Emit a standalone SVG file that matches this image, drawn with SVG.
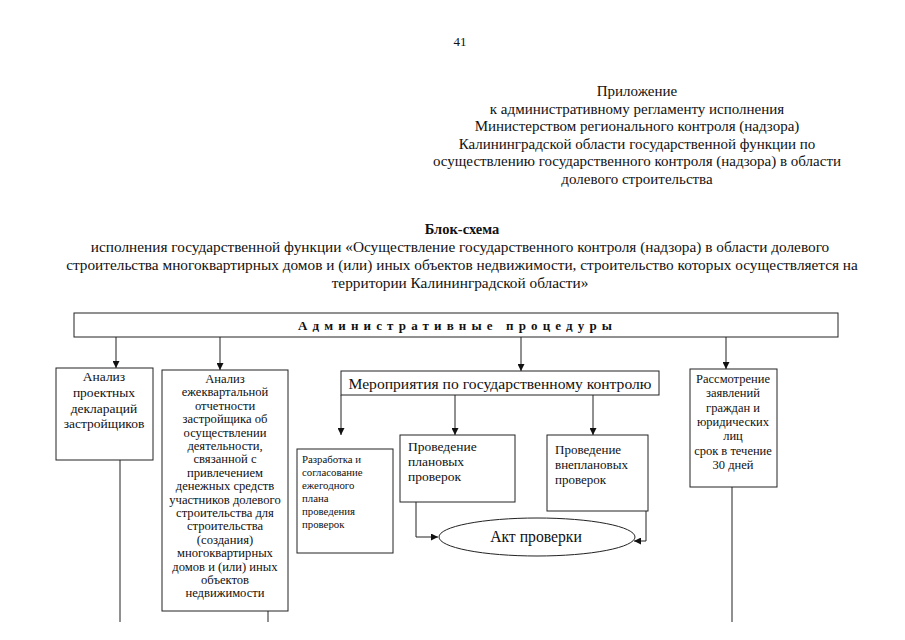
<svg xmlns="http://www.w3.org/2000/svg" width="905" height="640" viewBox="0 0 905 640">
<defs>
<marker id="ah" viewBox="0 0 8 8" refX="8" refY="4" markerWidth="7" markerHeight="7" orient="auto" markerUnits="userSpaceOnUse">
<path d="M0,0 L8,4 L0,8 z" fill="#111"/>
</marker>
<style>
text{font-family:"Liberation Serif","Times New Roman",serif;fill:#111}
.h{font-size:15px;text-anchor:middle}
.t{font-size:15.3px;text-anchor:middle}
.c{text-anchor:middle}
.box{fill:#fff;stroke:#222;stroke-width:1}
.ln{fill:none;stroke:#222;stroke-width:1}
.ar{fill:none;stroke:#222;stroke-width:1;marker-end:url(#ah)}
</style>
</defs>
<rect width="905" height="640" fill="#fff"/>
<text x="460" y="46" class="h" style="font-size:13px">41</text>
<g id="header">
<text class="h" x="637" y="96">Приложение</text>
<text class="h" x="637" y="113.5">к административному регламенту исполнения</text>
<text class="h" x="637" y="131">Министерством регионального контроля (надзора)</text>
<text class="h" x="637" y="148.5">Калининградской области государственной функции по</text>
<text class="h" x="637" y="166">осуществлению государственного контроля (надзора) в области</text>
<text class="h" x="637" y="183.5">долевого строительства</text>
</g>
<g id="title">
<text class="t" x="462" y="233.5" font-weight="bold" style="font-size:14.5px">Блок-схема</text>
<text class="t" x="460" y="252">исполнения государственной функции «Осуществление государственного контроля (надзора) в области долевого</text>
<text class="t" x="462" y="270">строительства многоквартирных домов и (или) иных объектов недвижимости, строительство которых осуществляется на</text>
<text class="t" x="460" y="288">территории Калининградской области»</text>
</g>
<g id="procedures">
<rect class="box" x="74" y="313" width="764" height="24"/>
<text x="298" y="330" font-size="13" font-weight="bold" textLength="314" lengthAdjust="spacing">Административные  процедуры</text>
</g>
<g id="connectors">
<path class="ar" d="M116 337 V368"/>
<path class="ar" d="M220 337 V370"/>
<path class="ar" d="M521 337 V371"/>
<path class="ar" d="M726 337 V369"/>
<path class="ar" d="M341 395 V435"/>
<path class="ar" d="M455 395 V435"/>
<path class="ar" d="M593 395 V435"/>
<path class="ar" d="M416 502 V537 H438"/>
<path class="ar" d="M646 511 V541 H634"/>
<path class="ln" d="M120 460 V622"/>
<path class="ln" d="M268 611 V622"/>
<path class="ln" d="M732 487 V622"/>
</g>
<g id="box1" font-size="13.5">
<rect class="box" x="56" y="368" width="97" height="92"/>
<text class="c" x="104" y="381">Анализ</text>
<text class="c" x="104" y="397">проектных</text>
<text class="c" x="104" y="413">деклараций</text>
<text class="c" x="104" y="428">застройщиков</text>
</g>
<g id="box2" font-size="12.6">
<rect class="box" x="162" y="370" width="126" height="241"/>
<text class="c" x="225" y="383">Анализ</text>
<text class="c" x="225" y="396.4">ежеквартальной</text>
<text class="c" x="225" y="409.8">отчетности</text>
<text class="c" x="225" y="423.2">застройщика об</text>
<text class="c" x="225" y="436.6">осуществлении</text>
<text class="c" x="225" y="450">деятельности,</text>
<text class="c" x="225" y="463.4">связанной с</text>
<text class="c" x="225" y="476.8">привлечением</text>
<text class="c" x="225" y="490.2">денежных средств</text>
<text class="c" x="225" y="503.6">участников долевого</text>
<text class="c" x="225" y="517">строительства для</text>
<text class="c" x="225" y="530.4">строительства</text>
<text class="c" x="225" y="543.8">(создания)</text>
<text class="c" x="225" y="557.2">многоквартирных</text>
<text class="c" x="225" y="570.6">домов и (или) иных</text>
<text class="c" x="225" y="584">объектов</text>
<text class="c" x="225" y="597.4">недвижимости</text>
</g>
<g id="measures">
<rect class="box" x="341" y="371" width="318" height="24"/>
<text class="c" font-size="15.6" x="500" y="389">Мероприятия по государственному контролю</text>
</g>
<g id="plan" font-size="10.8">
<rect class="box" x="297" y="449" width="96" height="104"/>
<text x="302" y="463">Разработка и</text>
<text x="302" y="476">согласование</text>
<text x="302" y="489">ежегодного</text>
<text x="302" y="502">плана</text>
<text x="302" y="515">проведения</text>
<text x="302" y="528">проверок</text>
</g>
<g id="planned" font-size="13.5">
<rect class="box" x="400" y="435" width="115" height="67"/>
<text x="408" y="451">Проведение</text>
<text x="408" y="466">плановых</text>
<text x="408" y="481">проверок</text>
</g>
<g id="unplanned" font-size="13">
<rect class="box" x="547" y="435" width="101" height="76"/>
<text x="555" y="454">Проведение</text>
<text x="555" y="469">внеплановых</text>
<text x="555" y="484">проверок</text>
</g>
<g id="act">
<ellipse class="box" cx="537" cy="537" rx="98" ry="19"/>
<text class="c" font-size="15.7" x="536" y="542">Акт проверки</text>
</g>
<g id="box5" font-size="12.5">
<rect class="box" x="690" y="369" width="87" height="118"/>
<text class="c" x="733" y="383">Рассмотрение</text>
<text class="c" x="733" y="397.3">заявлений</text>
<text class="c" x="733" y="411.6">граждан и</text>
<text class="c" x="733" y="425.9">юридических</text>
<text class="c" x="733" y="440.2">лиц</text>
<text class="c" x="733" y="454.5">срок в течение</text>
<text class="c" x="733" y="468.8">30 дней</text>
</g>
</svg>
